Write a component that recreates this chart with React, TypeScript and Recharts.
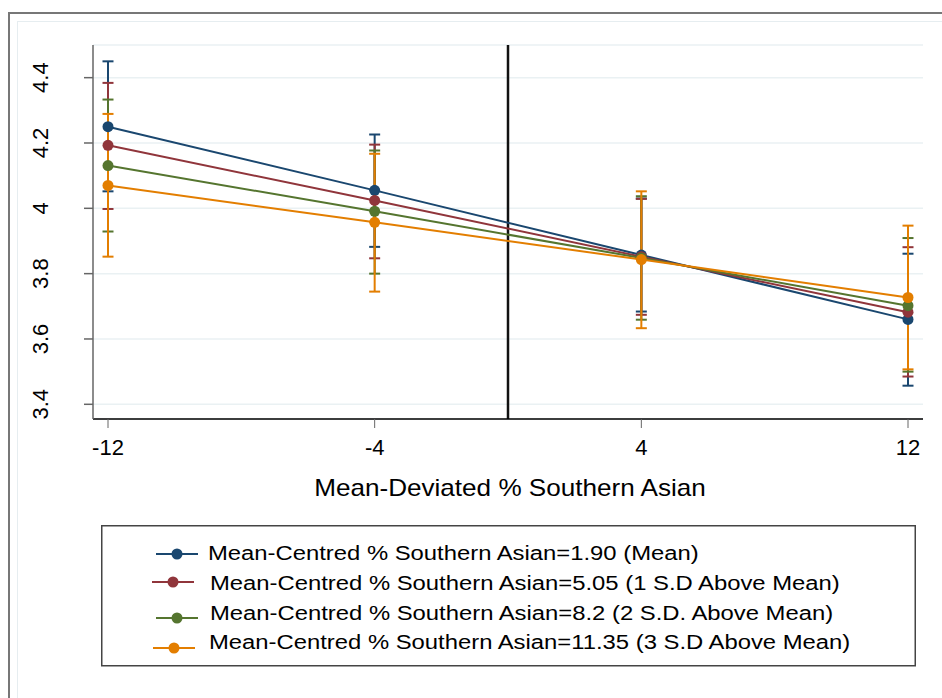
import React from 'react';
import {
  ComposedChart,
  Line,
  XAxis,
  YAxis,
  CartesianGrid,
  ErrorBar,
  ReferenceLine,
  Legend,
} from 'recharts';

const xValues = [-12, -4, 4, 12];
const xTicks = [-12, -4, 4, 12];
const yTicks = [3.4, 3.6, 3.8, 4, 4.2, 4.4];

const s1Est = [4.25, 4.055, 3.857, 3.66];
const s1Lo = [4.052, 3.882, 3.684, 3.457];
const s1Hi = [4.45, 4.226, 4.03, 3.861];

const s2Est = [4.193, 4.024, 3.852, 3.682];
const s2Lo = [3.998, 3.847, 3.674, 3.485];
const s2Hi = [4.384, 4.195, 4.029, 3.881];

const s3Est = [4.131, 3.991, 3.848, 3.702];
const s3Lo = [3.929, 3.8, 3.659, 3.5];
const s3Hi = [4.333, 4.177, 4.037, 3.909];

const s4Est = [4.07, 3.957, 3.843, 3.727];
const s4Lo = [3.852, 3.745, 3.633, 3.507];
const s4Hi = [4.289, 4.167, 4.052, 3.947];

const seriesNames = [
  'Mean-Centred % Southern Asian=1.90 (Mean)',
  'Mean-Centred % Southern Asian=5.05 (1 S.D Above Mean)',
  'Mean-Centred % Southern Asian=8.2 (2 S.D. Above Mean)',
  'Mean-Centred % Southern Asian=11.35 (3 S.D Above Mean)',
];
const xTitle = 'Mean-Deviated % Southern Asian';
const colors = ['#1a476f', '#90353b', '#55752f', '#e37e00'];

const ests = [s1Est, s2Est, s3Est, s4Est];
const los = [s1Lo, s2Lo, s3Lo, s4Lo];
const his = [s1Hi, s2Hi, s3Hi, s4Hi];

const data = xValues.map((x, i) => {
  const row: any = { x };
  for (let k = 0; k < 4; k++) {
    row[`s${k + 1}`] = ests[k][i];
    row[`e${k + 1}`] = [ests[k][i] - los[k][i], his[k][i] - ests[k][i]];
  }
  return row;
});

const FONT = '"Liberation Sans", Arial, sans-serif';
const STRETCH = 1.135;

const YTick = (props: any) => {
  const { y, payload } = props;
  const cx = 41;
  return (
    <text
      x={cx}
      y={y}
      transform={`rotate(-90, ${cx}, ${y})`}
      textAnchor="middle"
      dominantBaseline="central"
      fontSize={22}
      fontFamily={FONT}
      fill="#000"
    >
      {String(payload.value)}
    </text>
  );
};

const XTitle = (props: any) => {
  const vb = props.viewBox || { x: 93, width: 830 };
  const cx = vb.x + vb.width / 2 + 2;
  return (
    <g transform={`translate(${cx}, 496) scale(${STRETCH}, 1)`}>
      <text x={0} y={0} textAnchor="middle" fontSize={23} fontFamily={FONT} fill="#000">
        {xTitle}
      </text>
    </g>
  );
};

// legend layout (relative to the legend box)
const legendRows = [
  { lx1: 55, lx2: 97, cx: 76, my: 29, tx: 107, ty: 28 },
  { lx1: 51, lx2: 93, cx: 72, my: 57, tx: 109, ty: 58 },
  { lx1: 55, lx2: 97, cx: 76, my: 93, tx: 109, ty: 88 },
  { lx1: 52, lx2: 94, cx: 73, my: 123, tx: 108, ty: 117 },
];

const LegendContent = () => (
  <svg width={815} height={142} style={{ display: 'block' }}>
    <rect x={0.75} y={0.75} width={813.5} height={140} fill="#fff" stroke="#444" strokeWidth={1.5} />
    {seriesNames.map((name, i) => {
      const r = legendRows[i];
      return (
        <g key={name}>
          <line x1={r.lx1} x2={r.lx2} y1={r.my} y2={r.my} stroke={colors[i]} strokeWidth={2} />
          <circle cx={r.cx} cy={r.my} r={5.5} fill={colors[i]} />
          <g transform={`translate(${r.tx}, ${r.ty}) scale(${STRETCH}, 1)`}>
            <text x={0} y={0} dominantBaseline="central" fontSize={21} fontFamily={FONT} fill="#000">
              {name}
            </text>
          </g>
        </g>
      );
    })}
  </svg>
);

export default function App() {
  return (
    <div style={{ position: 'absolute', left: 0, top: 0, width: 942, height: 698, background: '#fff', overflow: 'hidden' }}>
      <div
        style={{
          position: 'absolute',
          left: 8,
          top: 12,
          width: 1200,
          height: 1200,
          borderLeft: '2px solid #777',
          borderTop: '2px solid #777',
        }}
      />
      <div
        style={{
          position: 'absolute',
          left: 16.5,
          top: 20.5,
          width: 1200,
          height: 676,
          border: '1px solid #e6edf0',
        }}
      />
      <div style={{ position: 'absolute', left: 0, top: 0 }}>
        <ComposedChart
          width={942}
          height={698}
          data={data}
          margin={{ top: 45, right: 19, bottom: 57, left: 0 }}
        >
          <CartesianGrid vertical={false} stroke="#eaf1f3" strokeWidth={1.5} />
          <XAxis
            dataKey="x"
            type="number"
            domain={[-12.45, 12.45]}
            ticks={xTicks}
            allowDataOverflow
            height={80}
            tickSize={9}
            tickMargin={11}
            stroke="#000"
            strokeWidth={1.5}
            tickLine={{ stroke: '#666', strokeWidth: 1 }}
            tick={{ fontSize: 22, fill: '#000', fontFamily: FONT }}
            label={<XTitle />}
          />
          <YAxis
            type="number"
            domain={[3.355, 4.5]}
            ticks={yTicks}
            allowDataOverflow
            width={93}
            tickSize={9}
            stroke="#666"
            strokeWidth={1.5}
            tickLine={{ stroke: '#666', strokeWidth: 1.5 }}
            tick={<YTick />}
          />
          <Legend
            content={<LegendContent />}
            wrapperStyle={{ position: 'absolute', left: 101, top: 525, width: 815, height: 142 }}
          />
          {[1, 2, 3, 4].map((k) => (
            <Line
              key={`err${k}`}
              dataKey={`s${k}`}
              stroke="none"
              dot={false}
              activeDot={false}
              legendType="none"
              isAnimationActive={false}
            >
              <ErrorBar
                dataKey={`e${k}`}
                direction="y"
                width={5.5}
                stroke={colors[k - 1]}
                strokeWidth={2}
                isAnimationActive={false}
              />
            </Line>
          ))}
          <ReferenceLine x={0} stroke="#111" strokeWidth={2.5} />
          {[1, 2, 3, 4].map((k) => (
            <Line
              key={`line${k}`}
              dataKey={`s${k}`}
              name={seriesNames[k - 1]}
              stroke={colors[k - 1]}
              strokeWidth={2}
              dot={{ r: 5.5, fill: colors[k - 1], stroke: colors[k - 1], strokeWidth: 0 }}
              activeDot={false}
              isAnimationActive={false}
            />
          ))}
        </ComposedChart>
      </div>
    </div>
  );
}
